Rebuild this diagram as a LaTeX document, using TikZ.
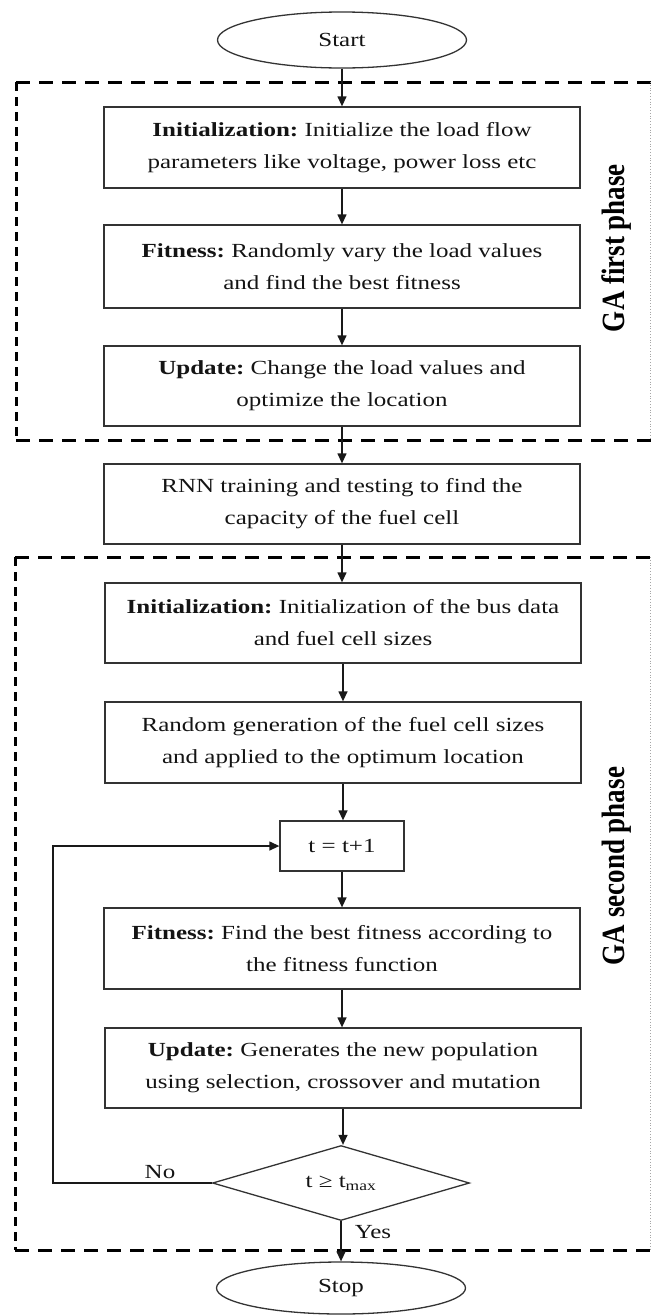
\documentclass[tikz,border=0pt]{standalone}
\usepackage{fontspec}
\setmainfont{Liberation Serif}[FakeStretch=1.25]
\newfontfamily\labelfont{Liberation Serif}
\usetikzlibrary{arrows.meta,shapes.geometric}
\frenchspacing

\tikzset{
  box/.style={draw=black!80, line width=1.3pt, minimum width=476pt, minimum height=81pt,
    inner sep=0pt, align=center, text=black!92, font=\fontsize{20}{32}\selectfont},
  term/.style={draw=black!80, line width=1.3pt, ellipse, minimum width=249pt, minimum height=56pt,
    inner sep=0pt, text=black!92, font=\fontsize{20}{32}\selectfont},
  decision/.style={draw=black!80, line width=1.3pt, diamond, aspect=3.4, minimum width=257pt,
    minimum height=75pt, inner sep=0pt, text=black!92, font=\fontsize{20}{32}\selectfont},
  flow/.style={line width=1.3pt, draw=black!90, -{Triangle[length=10pt,width=9pt]}},
  phaseh/.style={line width=3pt, dash pattern=on 14pt off 9pt},
  phasev/.style={line width=3pt, dash pattern=on 9pt off 6pt},
  phaser/.style={line width=0.8pt, draw=black!35, dotted},
  phaselabel/.style={rotate=90, anchor=base, text=black,
    font=\labelfont\bfseries\fontsize{27}{32}\selectfont},
  branch/.style={text=black!92, font=\fontsize{20}{32}\selectfont, inner sep=0pt}
}

\begin{document}
\begin{tikzpicture}[x=1pt, y=-1pt]
\useasboundingbox (0,0) rectangle (653,1315);

% phase frames
\draw[phaseh] (16,82) -- (653,82);
\draw[phasev] (16,82) -- (16,440);
\draw[phaseh] (16,440) -- (653,440);
\draw[phaser] (650,82) -- (650,440);
\draw[phaseh] (15,557) -- (653,557);
\draw[phasev] (15,557) -- (15,1250);
\draw[phaseh] (15,1250) -- (653,1250);
\draw[phaser] (650,557) -- (650,1250);

\node[phaselabel] (lab1) at (624,248) {\scalebox{1}[1.2]{GA first phase}};
\node[phaselabel] (lab2) at (624,866) {\scalebox{1}[1.2]{GA second phase}};

% steps
\node[term] (start) at (342,40) {Start};
\node[box] (init1) at (342,147.5) {\textbf{Initialization:} Initialize the load flow\\parameters like voltage, power loss etc};
\node[box, minimum height=83pt] (fit1) at (342,266.5) {\textbf{Fitness:} Randomly vary the load values\\and find the best fitness};
\node[box, minimum height=80pt] (upd1) at (342,386) {\textbf{Update:} Change the load values and\\optimize the location};
\node[box, minimum height=80pt] (rnn) at (342,504) {RNN training and testing to find the\\capacity of the fuel cell};
\node[box, minimum height=80pt] (init2) at (343,623) {\textbf{Initialization:} Initialization of the bus data\\and fuel cell sizes};
\node[box] (rand) at (343,742.5) {Random generation of the fuel cell sizes\\and applied to the optimum location};
\node[box, minimum width=124pt, minimum height=50pt] (tinc) at (342,846) {t = t+1};
\node[box] (fit2) at (342,948.5) {\textbf{Fitness:} Find the best fitness according to\\the fitness function};
\node[box, minimum height=80pt] (upd2) at (343,1068) {\textbf{Update:} Generates the new population\\using selection, crossover and mutation};
\node[decision] (dec) at (341,1183) {t ≥ t\textsubscript{max}};
\node[term, minimum height=52pt] (stop) at (341,1288) {Stop};

\coordinate (loop) at (53,1183);

% connectors
\draw[flow] (start) -- (init1);
\draw[flow] (init1) -- (fit1);
\draw[flow] (fit1) -- (upd1);
\draw[flow] (upd1) -- (rnn);
\draw[flow] (rnn.south) -- (rnn.south |- init2.north);
\draw[flow] (init2.south) -- (init2.south |- rand.north);
\draw[flow] (rand.south) -- (rand.south |- tinc.north);
\draw[flow] (tinc) -- (fit2);
\draw[flow] (fit2.south) -- (fit2.south |- upd2.north);
\draw[flow] (upd2.south) -- (upd2.south |- dec.north);
\draw[flow] (dec.south) -- (stop.north);
\draw[flow] (dec.west) -- (loop) |- (tinc.west);

\node[branch, anchor=base] (no) at (160,1178) {No};
\node[branch, anchor=base] (yes) at (373,1238) {Yes};
\end{tikzpicture}
\end{document}
